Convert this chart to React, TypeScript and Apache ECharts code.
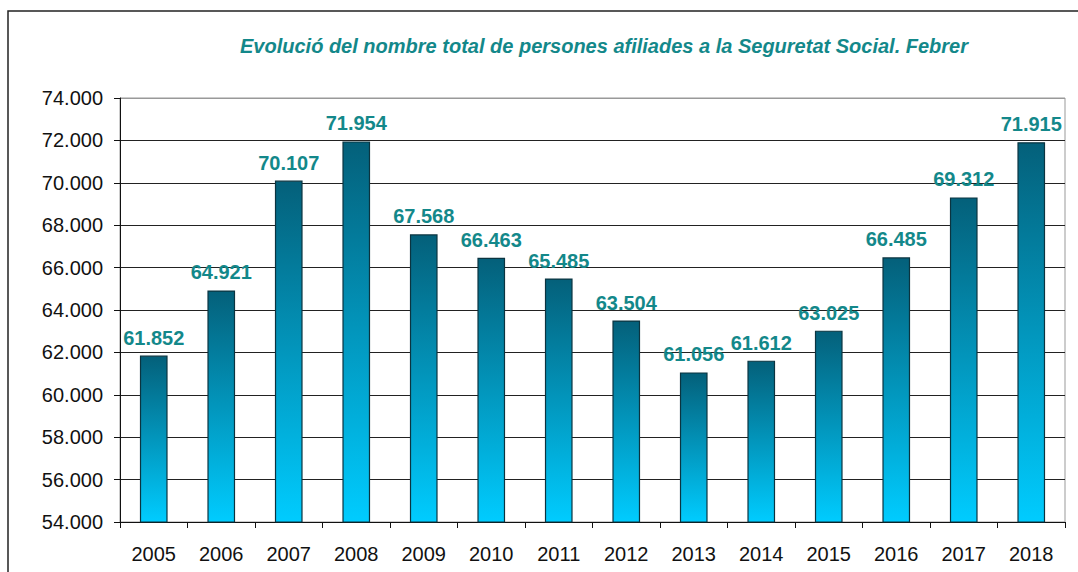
import React, { useEffect, useRef } from "react";
import * as echarts from "echarts";

const years = ["2005", "2006", "2007", "2008", "2009", "2010", "2011", "2012", "2013", "2014", "2015", "2016", "2017", "2018"];
const affiliates = [61852, 64921, 70107, 71954, 67568, 66463, 65485, 63504, 61056, 61612, 63025, 66485, 69312, 71915];
const titleText = "Evolució del nombre total de persones afiliades a la Seguretat Social. Febrer";

const FONT = "'Liberation Sans', Arial, sans-serif";
const fmt = (v: number) => {
  const s = Math.round(v).toString();
  return s.replace(/\B(?=(\d{3})+(?!\d))/g, ".");
};

export default function App() {
  const ref = useRef<HTMLDivElement>(null);
  useEffect(() => {
    if (!ref.current) return;
    const chart = echarts.init(ref.current, null, { renderer: "svg" });
    const gridColors = ["#222", "#222", "#222", "#222", "#222", "#222", "#222", "#222", "#222", "#222", "#999"];
    chart.setOption({
      animation: false,
      backgroundColor: "#fff",
      title: {
        text: titleText,
        left: 599,
        textAlign: "center",
        top: 31,
        textStyle: { fontFamily: FONT, fontSize: 20, fontStyle: "italic", fontWeight: "bold", color: "#13888a" },
      },
      graphic: [
        {
          type: "rect",
          shape: { x: 8, y: 11, width: 1200, height: 700 },
          style: { fill: "none", stroke: "#222", lineWidth: 1.5 },
          silent: true,
          z: 100,
        },
      ],
      grid: { left: 120, right: 13, top: 98, bottom: 50, show: true, borderColor: "#999", borderWidth: 1 },
      xAxis: {
        type: "category",
        data: years,
        axisLine: { lineStyle: { color: "#111", width: 1 } },
        axisTick: { show: true, length: 6, lineStyle: { color: "#111" } },
        axisLabel: { fontFamily: FONT, fontSize: 20, color: "#111", margin: 22 },
      },
      yAxis: {
        type: "value",
        min: 54000,
        max: 74000,
        interval: 2000,
        axisLine: { show: true, lineStyle: { color: "#111", width: 1 } },
        axisTick: { show: true, length: 6, lineStyle: { color: "#111" } },
        axisLabel: { fontFamily: FONT, fontSize: 20, color: "#111", margin: 17, formatter: (v: number) => fmt(v) },
        splitLine: { show: true, lineStyle: { color: gridColors, width: 1 } },
      },
      series: [
        {
          type: "bar",
          data: affiliates,
          barWidth: "41%",
          itemStyle: {
            color: new echarts.graphic.LinearGradient(0, 0, 0, 1, [
              { offset: 0, color: "#04607a" },
              { offset: 1, color: "#00ccff" },
            ]),
            borderColor: "#0b3440",
            borderWidth: 1.2,
          },
          label: {
            show: true,
            position: "top",
            distance: 8,
            fontFamily: FONT,
            fontSize: 20,
            fontWeight: "bold",
            color: "#13888a",
            formatter: (p: any) => fmt(p.value),
          },
        },
      ],
    });
    return () => chart.dispose();
  }, []);
  return <div ref={ref} style={{ position: "absolute", left: 0, top: 0, width: 1078, height: 572 }} />;
}
